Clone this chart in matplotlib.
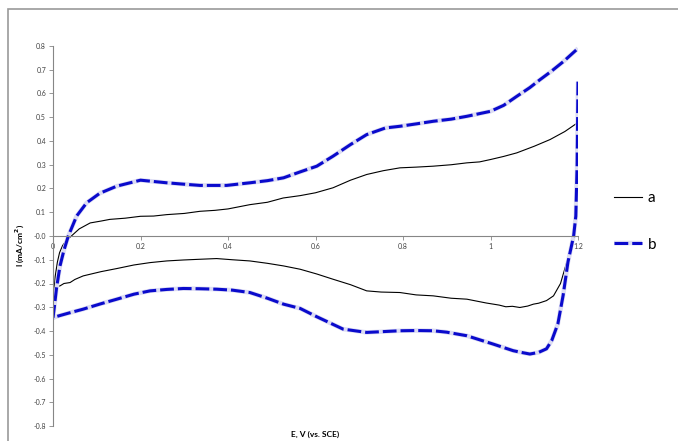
import numpy as np
import matplotlib
matplotlib.use('Agg')
import matplotlib.pyplot as plt
from matplotlib.patches import Rectangle
from matplotlib.ticker import FuncFormatter, MultipleLocator

plt.rcParams['font.family'] = ['Lato', 'DejaVu Sans']
plt.rcParams['axes.unicode_minus'] = False

# curve a (black): reverse scan from 1.2 V down to 0, then forward scan back to 1.2 V
a_E = [1.2, 1.198, 1.195, 1.19, 1.182, 1.174, 1.16, 1.144, 1.128, 1.11, 1.098, 1.085, 1.067,
       1.05, 1.035, 1.02, 0.99, 0.946, 0.91, 0.869, 0.83, 0.793, 0.75, 0.717, 0.68, 0.64,
       0.603, 0.565, 0.527, 0.49, 0.45, 0.41, 0.374, 0.335, 0.298, 0.26, 0.222, 0.185,
       0.146, 0.11, 0.069, 0.05, 0.039, 0.025, 0.016, 0.006, 0.0,
       0.002, 0.005, 0.01, 0.015, 0.022, 0.03, 0.045, 0.06, 0.085, 0.11, 0.13, 0.165, 0.2,
       0.23, 0.26, 0.3, 0.336, 0.37, 0.4, 0.45, 0.49, 0.526, 0.565, 0.6, 0.64, 0.68, 0.717,
       0.755, 0.793, 0.83, 0.869, 0.91, 0.946, 0.975, 1.0, 1.03, 1.06, 1.1, 1.136, 1.17, 1.2]
a_I = [0.48, 0.3, 0.084, 0.0, -0.06, -0.112, -0.2, -0.252, -0.272, -0.283, -0.287, -0.295, -0.301,
       -0.296, -0.298, -0.291, -0.282, -0.266, -0.262, -0.252, -0.248, -0.238, -0.236, -0.231, -0.205, -0.182,
       -0.16, -0.14, -0.126, -0.115, -0.105, -0.1, -0.095, -0.098, -0.101, -0.105, -0.112, -0.122,
       -0.137, -0.15, -0.168, -0.183, -0.196, -0.2, -0.21, -0.213, -0.216,
       -0.245, -0.17, -0.11, -0.07, -0.04, -0.02, 0.005, 0.03, 0.055, 0.063, 0.07, 0.075, 0.083,
       0.084, 0.09, 0.095, 0.104, 0.108, 0.114, 0.132, 0.142, 0.16, 0.17, 0.182, 0.203, 0.235, 0.259,
       0.275, 0.287, 0.29, 0.294, 0.3, 0.308, 0.312, 0.322, 0.335, 0.35, 0.378, 0.406, 0.44, 0.478]

# curve b (blue dashed): reverse scan from 1.2 V down to 0, then forward scan back to 1.2 V
b_E = [1.2, 1.198, 1.195, 1.19, 1.177, 1.166, 1.154, 1.14, 1.128, 1.11, 1.09, 1.07, 1.052,
       1.006, 0.946, 0.9, 0.869, 0.83, 0.793, 0.75, 0.717, 0.663, 0.603, 0.565, 0.527, 0.49,
       0.45, 0.41, 0.374, 0.335, 0.298, 0.26, 0.222, 0.185, 0.146, 0.11, 0.069, 0.035, 0.008, 0.0,
       0.003, 0.008, 0.016, 0.025, 0.035, 0.054, 0.077, 0.107, 0.146, 0.2, 0.26, 0.3, 0.336, 0.397,
       0.45, 0.49, 0.527, 0.565, 0.603, 0.64, 0.68, 0.717, 0.76, 0.793, 0.83, 0.869, 0.91, 0.946,
       1.0, 1.03, 1.06, 1.09, 1.113, 1.14, 1.167, 1.2]
b_I = [0.65, 0.3, 0.084, 0.0, -0.11, -0.25, -0.37, -0.44, -0.475, -0.49, -0.497, -0.49, -0.483,
       -0.455, -0.42, -0.405, -0.399, -0.398, -0.399, -0.403, -0.406, -0.392, -0.34, -0.305, -0.287, -0.262,
       -0.238, -0.228, -0.224, -0.222, -0.221, -0.225, -0.231, -0.245, -0.266, -0.285, -0.308, -0.325, -0.339, -0.345,
       -0.3, -0.22, -0.126, -0.06, 0.0, 0.084, 0.14, 0.18, 0.21, 0.235, 0.224, 0.218, 0.213, 0.213,
       0.224, 0.233, 0.245, 0.27, 0.294, 0.336, 0.385, 0.427, 0.455, 0.462, 0.472, 0.483, 0.492, 0.504,
       0.525, 0.55, 0.588, 0.625, 0.658, 0.695, 0.735, 0.79]

names = ['a', 'b']
y_ticks = np.round(np.arange(-0.8, 0.81, 0.1), 1)
x_ticks = [0, 0.2, 0.4, 0.6, 0.8, 1, 1.2]

fig = plt.figure(figsize=(6.78, 4.41), dpi=100)
# outer chart frame (runs off the right and bottom edges)
fig.patches.append(Rectangle((8 / 678, -0.05), 1.1, 1 - 9 / 441 + 0.05, transform=fig.transFigure,
                             fill=False, edgecolor='#9a9a9a', linewidth=1.2))

ax = fig.add_axes([53 / 678, 15 / 441, 525 / 678, 380 / 441])
ax.set_xlim(0, 1.2)
ax.set_ylim(-0.8, 0.8)

la, = ax.plot(a_E, a_I, color='black', linewidth=0.8, label=names[0])
under, = ax.plot(b_E, b_I, color='#dcdcf3', linewidth=3.2, solid_capstyle='butt')
lb, = ax.plot(b_E, b_I, color='#0a0acc', linewidth=2.2, dashes=(4.5, 1.3), label=names[1])

for s in ['top', 'right']:
    ax.spines[s].set_visible(False)
ax.spines['bottom'].set_position(('data', 0))
for s in ['left', 'bottom']:
    ax.spines[s].set_color('#868686')
    ax.spines[s].set_linewidth(0.8)

ax.set_yticks(y_ticks)
ax.set_xticks(x_ticks)
ax.yaxis.set_major_formatter(FuncFormatter(lambda v, p: '%.1f' % v))
ax.xaxis.set_major_formatter(FuncFormatter(lambda v, p: '%g' % v))
ax.tick_params(axis='both', colors='#868686', labelcolor='#404040', labelsize=5, length=3, width=0.6, pad=2)

fig.text(315 / 678, 1 - 434 / 441, 'E, V (vs. SCE)', ha='center', va='center', fontsize=6, fontweight='bold')
fig.text(20 / 678, 1 - 245 / 441, 'I (mA/cm$^\\mathbf{2}$)', ha='center', va='center', rotation=90,
         fontsize=6, fontweight='bold')

fig.legend([la, (under, lb)], names, loc='center left', bbox_to_anchor=(614 / 678, 1 - 221.5 / 441),
           frameon=False, fontsize=11, handlelength=1.8, handletextpad=0.4, labelspacing=2.1,
           borderpad=0, borderaxespad=0)

fig.savefig('out.png', dpi=100)
